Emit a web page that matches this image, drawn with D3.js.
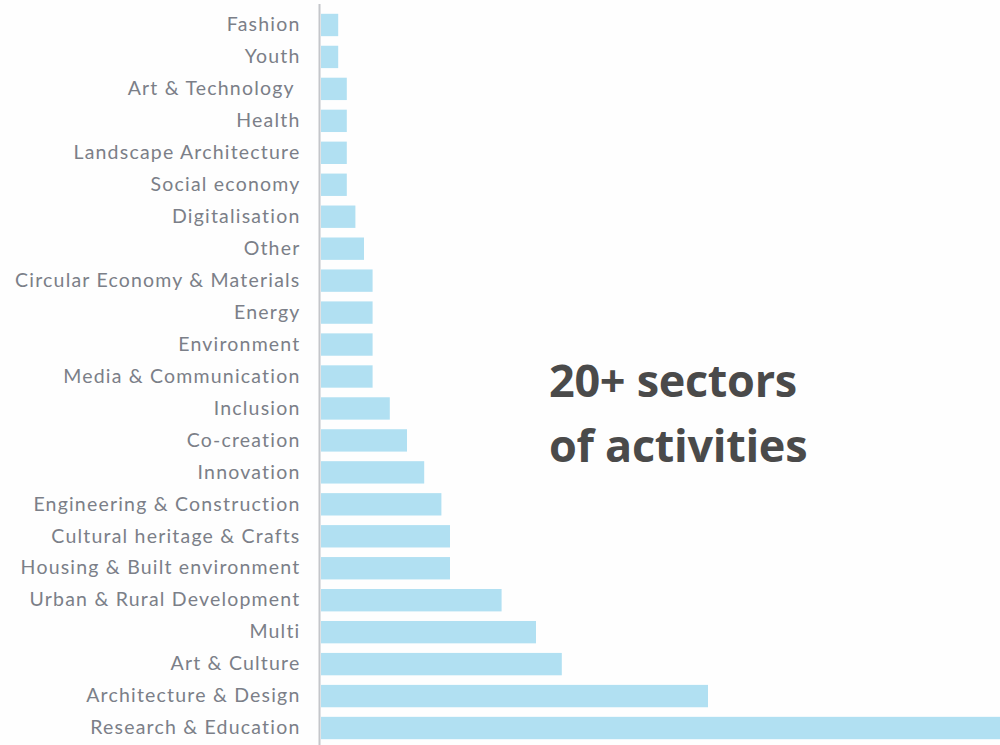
<!DOCTYPE html>
<html>
<head>
<meta charset="utf-8">
<script src="https://cdn.jsdelivr.net/npm/d3@7/dist/d3.min.js"></script>
<style>
  html, body { margin: 0; padding: 0; background: #fefefe; }
  svg { display: block; }
</style>
</head>
<body>
<svg id="chart" width="1000" height="745"></svg>
<script>
const categories = [
  "Fashion", "Youth", "Art & Technology ", "Health", "Landscape Architecture",
  "Social economy", "Digitalisation", "Other", "Circular Economy & Materials",
  "Energy", "Environment", "Media & Communication", "Inclusion", "Co-creation",
  "Innovation", "Engineering & Construction", "Cultural heritage & Crafts",
  "Housing & Built environment", "Urban & Rural Development", "Multi",
  "Art & Culture", "Architecture & Design", "Research & Education"
];
const values = [2, 2, 3, 3, 3, 3, 4, 5, 6, 6, 6, 6, 8, 10, 12, 14, 15, 15, 21, 25, 28, 45, 82];
const titleLines = ["20+ sectors", "of activities"];

const svg = d3.select("#chart");
const x0 = 321;
const x = d3.scaleLinear().domain([0, 10]).range([x0, x0 + 86]);
const y = d3.scaleBand().domain(categories).range([9, 744]).paddingInner(0.3).paddingOuter(0.15);

svg.append("g").selectAll("rect")
  .data(categories)
  .join("rect")
  .attr("x", x(0))
  .attr("y", d => y(d))
  .attr("width", (d, i) => x(values[i]) - x(0))
  .attr("height", y.bandwidth())
  .attr("fill", "#b1e0f2");

const axis = d3.axisLeft(y).tickSize(0).tickPadding(19);
const g = svg.append("g").attr("transform", `translate(${x0 - 1.5},0)`).call(axis);
g.select(".domain").attr("stroke", "#c4c6ca").attr("stroke-width", 2).attr("d", "M0,4V745");
g.selectAll("text")
  .attr("fill", "#7b7f88")
  .style("font-family", "Lato, 'Open Sans', sans-serif")
  .style("font-size", "19.5px")
  .style("letter-spacing", "1.2px")
  .style("white-space", "pre");

const t = svg.append("text")
  .attr("x", 549)
  .attr("fill", "#4a4a4a")
  .style("font-family", "'Open Sans', sans-serif")
  .style("font-weight", "700")
  .style("font-size", "45px")
  .style("letter-spacing", "-0.3px");
t.selectAll("tspan").data(titleLines).join("tspan")
  .attr("x", 549)
  .attr("y", (d, i) => 397 + i * 65)
  .text(d => d);
</script>
</body>
</html>
